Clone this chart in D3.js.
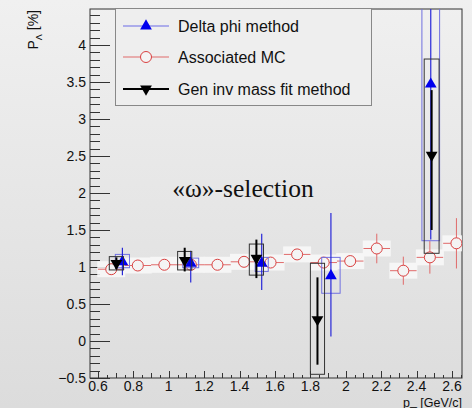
<!DOCTYPE html>
<html><head><meta charset="utf-8">
<script src="https://cdn.jsdelivr.net/npm/d3@7"></script>
<style>html,body{margin:0;padding:0;}body{width:472px;height:408px;overflow:hidden;}</style>
</head><body><svg id="c" width="472" height="408"></svg>
<script>
// Associated MC (red open circles)
const mcX   = [0.675,0.825,0.975,1.125,1.275,1.425,1.575,1.725,1.875,2.025,2.175,2.325,2.475,2.625];
const mcY   = [0.97,1.02,1.03,1.03,1.03,1.07,1.06,1.17,1.06,1.08,1.25,0.95,1.13,1.32];
const mcErr = [0.03,0.03,0.03,0.03,0.03,0.04,0.04,0.05,0.05,0.06,0.20,0.19,0.22,0.34];
const mcXErr = 0.075;
// Delta phi method (blue up triangles)
const dpX    = [0.738,1.124,1.525,1.916,2.48];
const dpY    = [1.07,1.05,1.05,0.88,3.47];
const dpErrHi= [0.19,0.17,0.40,0.85,2.5];
const dpErrLo= [0.18,0.26,0.36,0.82,2.1];
const dpSysX = [0.04,0.045,0.037,0.052,0.05];
const dpSysLo= [0.99,0.99,0.94,0.645,1.355];
const dpSysHi= [1.17,1.12,1.13,1.13,5.0];
// Gen inv mass fit method (black down triangles)
const gmX    = [0.704,1.09,1.495,1.84,2.485];
const gmY    = [1.05,1.09,1.12,0.29,2.51];
const gmErrHi= [0.08,0.17,0.25,0.57,0.88];
const gmErrLo= [0.08,0.15,0.27,0.61,1.01];
const gmSysX = [0.04,0.04,0.04,0.04,0.042];
const gmSysLo= [0.96,0.96,0.89,-0.45,1.185];
const gmSysHi= [1.14,1.21,1.31,1.05,3.81];
// axes
const yMajor = [-0.5,0,0.5,1,1.5,2,2.5,3,3.5,4];
const yMajorLabels = ["\u22120.5","0","0.5","1","1.5","2","2.5","3","3.5","4"];
const xMajor = [0.6,0.8,1,1.2,1.4,1.6,1.8,2,2.2,2.4,2.6];
const xMajorLabels = ["0.6","0.8","1","1.2","1.4","1.6","1.8","2","2.2","2.4","2.6"];
const legendLabels = ["Delta phi method","Associated MC","Gen inv mass fit method"];

const svg = d3.select("#c");
const defs = svg.append("defs");
const g0 = defs.append("linearGradient").attr("id","bg").attr("x1",0).attr("y1",0).attr("x2",0).attr("y2",1);
g0.append("stop").attr("offset","0%").attr("stop-color","#f0f0f0");
g0.append("stop").attr("offset","100%").attr("stop-color","#dcdcdc");
defs.append("clipPath").attr("id","clip").append("rect").attr("x",90).attr("y",9).attr("width",372).attr("height",369);
svg.append("rect").attr("width",472).attr("height",408).attr("fill","url(#bg)");

const L=90,R=462,T=9,B=378;
const x = d3.scaleLinear().domain([0.555,2.6565]).range([L,R]);
const y = d3.scaleLinear().domain([-0.5,4.486]).range([B,T]);

// frame
svg.append("rect").attr("x",L).attr("y",T).attr("width",R-L).attr("height",B-T).attr("fill","none").attr("stroke","#333").attr("stroke-width",1);

// y ticks inside
const yMinor = d3.range(-0.4,4.45,0.1).map(v=>+v.toFixed(2)).filter(v=>!yMajor.some(m=>Math.abs(m-v)<1e-6));
svg.append("g").selectAll("line").data(yMinor).join("line")
  .attr("x1",L).attr("x2",L+10).attr("y1",d=>Math.round(y(d))+0.5).attr("y2",d=>Math.round(y(d))+0.5).attr("stroke","#333");
svg.append("g").selectAll("line").data(yMajor).join("line")
  .attr("x1",L).attr("x2",L+20).attr("y1",d=>Math.round(y(d))+0.5).attr("y2",d=>Math.round(y(d))+0.5).attr("stroke","#333");
svg.append("g").selectAll("text").data(yMajor).join("text")
  .attr("x",86).attr("y",d=>y(d)).attr("dy","0.36em").attr("text-anchor","end")
  .attr("font-family","Liberation Sans, Arial, sans-serif").attr("font-size",14).attr("fill","#111")
  .text((d,i)=>yMajorLabels[i]);

// x ticks inside (pointing up)
const xMinor = d3.range(0.6,2.66,0.05).map(v=>+v.toFixed(3)).filter(v=>!xMajor.some(m=>Math.abs(m-v)<1e-6));
svg.append("g").selectAll("line").data(xMinor).join("line")
  .attr("x1",d=>Math.round(x(d))+0.5).attr("x2",d=>Math.round(x(d))+0.5).attr("y1",B).attr("y2",d=>B-(Math.abs((d*10)-Math.round(d*10))<1e-6?5:3)).attr("stroke","#333");
svg.append("g").selectAll("line").data(xMajor).join("line")
  .attr("x1",d=>Math.round(x(d))+0.5).attr("x2",d=>Math.round(x(d))+0.5).attr("y1",B).attr("y2",B-7).attr("stroke","#333");
svg.append("g").selectAll("text").data(xMajor).join("text")
  .attr("x",d=>x(d)).attr("y",391).attr("text-anchor","middle")
  .attr("font-family","Liberation Sans, Arial, sans-serif").attr("font-size",14).attr("fill","#111")
  .text((d,i)=>xMajorLabels[i]);

// axis titles
const xt = svg.append("text").attr("x",R).attr("y",406.5).attr("text-anchor","end")
  .attr("font-family","Liberation Sans, Arial, sans-serif").attr("font-size",12.5).attr("fill","#111");
xt.append("tspan").text("p");
xt.append("tspan").attr("dy",-2).text("_");
xt.append("tspan").attr("dy",2).text(" [GeV/c]");
const yt = svg.append("text").attr("transform","translate(38,10) rotate(-90)").attr("text-anchor","end")
  .attr("font-family","Liberation Sans, Arial, sans-serif").attr("font-size",14).attr("fill","#111");
yt.append("tspan").text("P");
yt.append("tspan").attr("font-size",9).attr("dy",4).text("\u039B");
yt.append("tspan").attr("dy",-4).text(" [%]");

const plot = svg.append("g").attr("clip-path","url(#clip)");

// white halos behind markers
const halo = plot.append("g").attr("fill","#fafafa").attr("opacity",0.85);
halo.selectAll("rect.mc").data(mcX).join("rect")
  .attr("x",(d,i)=>x(d)-14).attr("y",(d,i)=>y(mcY[i])-8).attr("width",28).attr("height",16);

// Red associated MC
const red = plot.append("g");
mcX.forEach((d,i)=>{
  red.append("line").attr("x1",x(d-mcXErr)).attr("x2",x(d+mcXErr)).attr("y1",y(mcY[i])).attr("y2",y(mcY[i])).attr("stroke","#e06a6a");
  red.append("line").attr("x1",x(d)).attr("x2",x(d)).attr("y1",y(mcY[i]-mcErr[i])).attr("y2",y(mcY[i]+mcErr[i])).attr("stroke","#e06a6a");
});
red.selectAll("circle").data(mcX).join("circle")
  .attr("cx",d=>x(d)).attr("cy",(d,i)=>y(mcY[i])).attr("r",5.5)
  .attr("fill","#f4f4f4").attr("stroke","#d94040").attr("stroke-width",1);

// Blue delta phi
const blue = plot.append("g");
dpX.forEach((d,i)=>{
  blue.append("rect").attr("x",x(d-dpSysX[i])).attr("width",x(d+dpSysX[i])-x(d-dpSysX[i]))
    .attr("y",y(dpSysHi[i])).attr("height",y(dpSysLo[i])-y(dpSysHi[i]))
    .attr("fill","none").attr("stroke","#7070e0").attr("stroke-width",1);
  blue.append("line").attr("x1",x(d)).attr("x2",x(d)).attr("y1",y(dpY[i]+dpErrHi[i])).attr("y2",y(dpY[i]-dpErrLo[i]))
    .attr("stroke","#2828d8").attr("stroke-width",1.2);
});
const triUp = d3.symbol().type(d3.symbolTriangle).size(60);
blue.selectAll("path").data(dpX).join("path")
  .attr("d",triUp).attr("transform",(d,i)=>`translate(${x(d)},${y(dpY[i])})`).attr("fill","#0000ee");

// Black gen inv mass
const black = plot.append("g");
gmX.forEach((d,i)=>{
  black.append("rect").attr("x",x(d-gmSysX[i])).attr("width",x(d+gmSysX[i])-x(d-gmSysX[i]))
    .attr("y",y(gmSysHi[i])).attr("height",y(gmSysLo[i])-y(gmSysHi[i]))
    .attr("fill","none").attr("stroke","#333").attr("stroke-width",1);
  black.append("line").attr("x1",x(d)).attr("x2",x(d)).attr("y1",y(gmY[i]+gmErrHi[i])).attr("y2",y(gmY[i]-gmErrLo[i]))
    .attr("stroke","#000").attr("stroke-width",2);
});
black.selectAll("path").data(gmX).join("path")
  .attr("d",triUp).attr("transform",(d,i)=>`translate(${x(d)},${y(gmY[i])}) rotate(180)`).attr("fill","#000");

// annotation
svg.append("text").attr("x",243).attr("y",197).attr("text-anchor","middle")
  .attr("font-family","Liberation Serif, Times New Roman, serif").attr("font-size",25.5).attr("fill","#111")
  .text("\u00AB\u03C9\u00BB-selection");

// legend
const lg = svg.append("g");
lg.append("rect").attr("x",115.5).attr("y",8.5).attr("width",256).attr("height",97).attr("fill","#eeeeee").attr("stroke","#888");
const rows=[26,57,89];
// delta phi
lg.append("line").attr("x1",123).attr("x2",169).attr("y1",rows[0]).attr("y2",rows[0]).attr("stroke","#6a6ae6");
lg.append("path").attr("d",triUp).attr("transform",`translate(146,${rows[0]})`).attr("fill","#0000ee");
// MC
lg.append("line").attr("x1",123).attr("x2",169).attr("y1",rows[1]).attr("y2",rows[1]).attr("stroke","#e06a6a");
lg.append("circle").attr("cx",146).attr("cy",rows[1]).attr("r",5.5).attr("fill","#f4f4f4").attr("stroke","#d94040");
// gen
lg.append("line").attr("x1",123).attr("x2",169).attr("y1",rows[2]).attr("y2",rows[2]).attr("stroke","#000").attr("stroke-width",2);
lg.append("path").attr("d",triUp).attr("transform",`translate(146,${rows[2]}) rotate(180)`).attr("fill","#000");
lg.selectAll("text").data(legendLabels).join("text")
  .attr("x",178).attr("y",(d,i)=>rows[i]).attr("dy","0.36em")
  .attr("font-family","Liberation Sans, Arial, sans-serif").attr("font-size",16).attr("fill","#111")
  .text(d=>d);
</script></body></html>
